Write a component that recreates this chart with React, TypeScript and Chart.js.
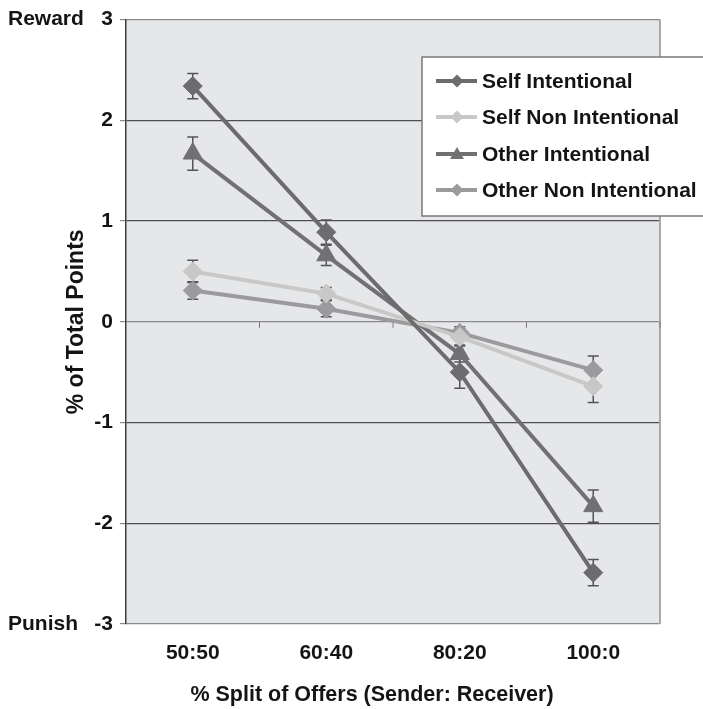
import React, { useEffect, useRef } from 'react';
import { Chart, registerables } from 'chart.js';

Chart.register(...registerables);

const categories = ['50:50', '60:40', '80:20', '100:0'];
const seriesNames = ['Self Intentional', 'Self Non Intentional', 'Other Intentional', 'Other Non Intentional'];

const selfIntentional = [2.34, 0.89, -0.5, -2.49];
const selfIntentionalErr = [0.125, 0.12, 0.16, 0.13];
const selfNonIntentional = [0.5, 0.28, -0.15, -0.64];
const selfNonIntentionalErr = [0.11, 0.06, 0.08, 0.16];
const otherIntentional = [1.67, 0.66, -0.32, -1.83];
const otherIntentionalErr = [0.165, 0.1, 0.08, 0.16];
const otherNonIntentional = [0.31, 0.13, -0.11, -0.48];
const otherNonIntentionalErr = [0.087, 0.08, 0.06, 0.14];

const yMin = -3;
const yMax = 3;
const yStep = 1;
const yTopLabel = 'Reward';
const yBottomLabel = 'Punish';
const xTitle = '% Split of Offers (Sender: Receiver)';
const yTitle = '% of Total Points';

const FONT = '"Liberation Sans", Arial, Helvetica, sans-serif';
const TEXT = '#141414';

const colors = ['#6c6c6e', '#c8c8c8', '#717173', '#9b9b9d'];
const styles = ['rectRot', 'rectRot', 'triangle', 'rectRot'];

function drawMarker(ctx: CanvasRenderingContext2D, style: string, x: number, y: number, r: number) {
  ctx.beginPath();
  if (style === 'triangle') {
    ctx.moveTo(x, y - r);
    ctx.lineTo(x + r * Math.sin((2 * Math.PI) / 3), y - r * Math.cos((2 * Math.PI) / 3));
    ctx.lineTo(x + r * Math.sin((4 * Math.PI) / 3), y - r * Math.cos((4 * Math.PI) / 3));
  } else {
    ctx.moveTo(x - r, y);
    ctx.lineTo(x, y - r);
    ctx.lineTo(x + r, y);
    ctx.lineTo(x, y + r);
  }
  ctx.closePath();
  ctx.fill();
}

const decorPlugin = {
  id: 'decor',
  beforeDraw(chart: any) {
    const { ctx, chartArea } = chart;
    ctx.save();
    ctx.fillStyle = '#e6e7e9';
    ctx.fillRect(chartArea.left, chartArea.top, chartArea.right - chartArea.left, chartArea.bottom - chartArea.top);
    ctx.restore();
  },
  beforeDatasetsDraw(chart: any) {
    const { ctx, chartArea } = chart;
    const xs = chart.scales.x;
    const ys = chart.scales.y;
    ctx.save();
    // right border
    ctx.strokeStyle = '#a9a9ab';
    ctx.lineWidth = 2;
    ctx.beginPath();
    ctx.moveTo(chartArea.right, chartArea.top);
    ctx.lineTo(chartArea.right, chartArea.bottom);
    ctx.stroke();
    // tick marks on zero line at category boundaries
    const y0 = ys.getPixelForValue(0);
    ctx.strokeStyle = '#7a7a7a';
    ctx.lineWidth = 1;
    for (let i = 0; i < categories.length; i++) {
      const xb = i < categories.length - 1
        ? (xs.getPixelForValue(i) + xs.getPixelForValue(i + 1)) / 2
        : chartArea.right;
      ctx.beginPath();
      ctx.moveTo(xb, y0);
      ctx.lineTo(xb, y0 + 6);
      ctx.stroke();
    }
    // error bars
    ctx.strokeStyle = '#555557';
    ctx.lineWidth = 1.5;
    chart.data.datasets.forEach((ds: any, di: number) => {
      const meta = chart.getDatasetMeta(di);
      ds.data.forEach((v: number, j: number) => {
        const e = ds.errors[j];
        const x = meta.data[j].x;
        const yt = ys.getPixelForValue(v + e);
        const yb = ys.getPixelForValue(v - e);
        ctx.beginPath();
        ctx.moveTo(x, yt);
        ctx.lineTo(x, yb);
        ctx.moveTo(x - 5.5, yt);
        ctx.lineTo(x + 5.5, yt);
        ctx.moveTo(x - 5.5, yb);
        ctx.lineTo(x + 5.5, yb);
        ctx.stroke();
      });
    });
    ctx.restore();
  },
  afterDraw(chart: any) {
    const { ctx } = chart;
    const ys = chart.scales.y;
    ctx.save();
    // Reward / Punish labels
    ctx.fillStyle = TEXT;
    ctx.font = `bold 21px ${FONT}`;
    ctx.textAlign = 'left';
    ctx.textBaseline = 'middle';
    ctx.fillText(yTopLabel, 8, ys.getPixelForValue(yMax));
    ctx.fillText(yBottomLabel, 8, ys.getPixelForValue(yMin));
    // x axis title
    ctx.font = `bold 21.5px ${FONT}`;
    ctx.textAlign = 'center';
    ctx.fillText(xTitle, 372, 695);
    // legend box
    const bx = 422;
    const by = 57;
    const bw = 300;
    const bh = 159;
    ctx.fillStyle = '#ffffff';
    ctx.fillRect(bx, by, bw, bh);
    ctx.strokeStyle = '#7a7a7a';
    ctx.lineWidth = 1.5;
    ctx.strokeRect(bx, by, bw, bh);
    const rowY = [81, 117, 154, 190];
    chart.data.datasets.forEach((ds: any, di: number) => {
      const y = rowY[di];
      ctx.strokeStyle = colors[di];
      ctx.lineWidth = 4;
      ctx.beginPath();
      ctx.moveTo(436, y);
      ctx.lineTo(477, y);
      ctx.stroke();
      ctx.fillStyle = colors[di];
      drawMarker(ctx, styles[di], 457, styles[di] === 'triangle' ? y + 1 : y, styles[di] === 'triangle' ? 8 : 6.5);
      ctx.fillStyle = TEXT;
      ctx.font = `bold 21px ${FONT}`;
      ctx.textAlign = 'left';
      ctx.textBaseline = 'middle';
      ctx.fillText(ds.label, 482, y + 1);
    });
    ctx.restore();
  },
};

export default function App() {
  const ref = useRef<HTMLCanvasElement | null>(null);

  useEffect(() => {
    if (!ref.current) return;
    const series = [selfIntentional, selfNonIntentional, otherIntentional, otherNonIntentional];
    const errs = [selfIntentionalErr, selfNonIntentionalErr, otherIntentionalErr, otherNonIntentionalErr];
    const chart = new Chart(ref.current, {
      type: 'line',
      data: {
        labels: categories,
        datasets: series.map((d, i) => ({
          label: seriesNames[i],
          data: d,
          errors: errs[i],
          borderColor: colors[i],
          backgroundColor: colors[i],
          borderWidth: 4,
          pointStyle: styles[i],
          pointRadius: styles[i] === 'triangle' ? 11 : 9.5,
          pointBackgroundColor: colors[i],
          pointBorderColor: colors[i],
          pointBorderWidth: 1,
          tension: 0,
        })) as any,
      },
      options: {
        animation: false,
        responsive: false,
        maintainAspectRatio: false,
        layout: { padding: { left: 0, right: 43, top: 14, bottom: 0 } },
        plugins: {
          legend: { display: false },
          tooltip: { enabled: false },
        },
        scales: {
          x: {
            type: 'category',
            offset: true,
            grid: { display: false, drawTicks: false },
            border: { display: false },
            ticks: {
              color: TEXT,
              font: { family: FONT, size: 21, weight: 'bold' },
              padding: 17,
              maxRotation: 0,
            },
            title: { display: false, text: xTitle },
            afterFit(scale: any) {
              scale.height = 85;
            },
          },
          y: {
            min: yMin,
            max: yMax,
            ticks: {
              stepSize: yStep,
              color: TEXT,
              font: { family: FONT, size: 21, weight: 'bold' },
              padding: 7,
              callback: (v: any) => String(v),
            },
            grid: {
              color: (c: any) => {
                const v = c.tick ? c.tick.value : 0;
                return v === 0 || v === yMax || v === yMin ? '#8a8a8c' : '#4e4e50';
              },
              tickColor: '#8a8a8c',
              tickLength: 6,
              lineWidth: 1.2,
            },
            border: { display: true, color: '#3c3c3e', width: 1.5 },
            title: {
              display: true,
              text: yTitle,
              color: TEXT,
              font: { family: FONT, size: 23, weight: 'bold' },
              padding: { top: 63, bottom: 0 },
            },
            afterFit(scale: any) {
              scale.width = 126;
            },
          },
        },
      } as any,
      plugins: [decorPlugin],
    });
    return () => chart.destroy();
  }, []);

  return (
    <div style={{ position: 'fixed', left: 0, top: 0, width: 703, height: 709 }}>
      <canvas ref={ref} width={703} height={709} style={{ display: 'block', width: 703, height: 709 }} />
    </div>
  );
}
